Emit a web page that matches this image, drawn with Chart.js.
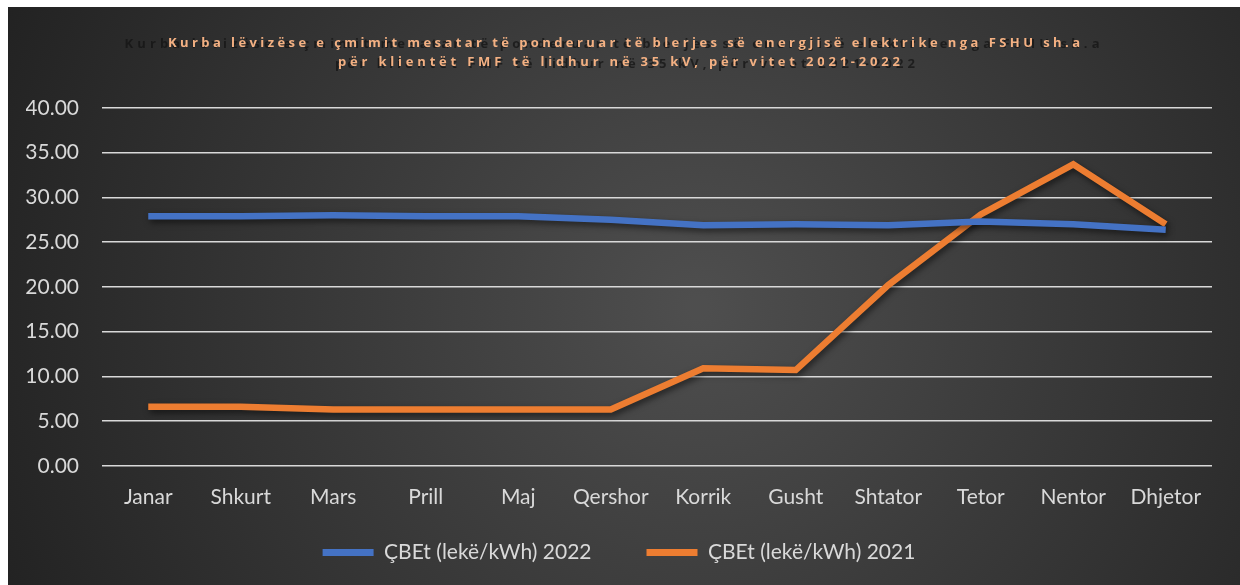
<!DOCTYPE html>
<html>
<head>
<meta charset="utf-8">
<title>ÇBEt 2021-2022</title>
<script src="https://cdn.jsdelivr.net/npm/chart.js@4/dist/chart.umd.min.js"></script>
<style>
  html, body { margin: 0; padding: 0; background: #ffffff; }
  #wrap { position: absolute; left: 8px; top: 7px; width: 1232px; height: 578px; }
  canvas { display: block; }
</style>
</head>
<body>
<div id="wrap"><canvas id="c" width="1232" height="578"></canvas></div>
<script>
// Months
const months = ['Janar', 'Shkurt', 'Mars', 'Prill', 'Maj', 'Qershor', 'Korrik', 'Gusht', 'Shtator', 'Tetor', 'Nentor', 'Dhjetor'];
// Average weighted purchase price, lekë/kWh
const price2022 = [27.9, 27.9, 28.0, 27.9, 27.9, 27.5, 26.9, 27.0, 26.9, 27.3, 27.0, 26.4];
const price2021 = [6.6, 6.6, 6.3, 6.3, 6.3, 6.3, 10.9, 10.7, 20.2, 28.1, 33.7, 27.0];
const seriesNames = ['ÇBEt (lekë/kWh) 2022', 'ÇBEt (lekë/kWh) 2021'];
const titleLines = [
  'Kurba lëvizëse e çmimit mesatar të ponderuar të blerjes së energjisë elektrike nga FSHU sh.a',
  'për klientët FMF të lidhur në 35 kV, për vitet 2021-2022'
];
const yTicks = { min: 0, max: 40, step: 5 };

const BLUE = '#4472C4';
const ORANGE = '#ED7D31';
const TEXT = '#d9d9d9';
const FONT = { family: 'Lato', size: 21 };

// dark radial panel behind everything
const panelBg = {
  id: 'panelBg',
  beforeDraw(chart) {
    const { ctx, width, height } = chart;
    const g = ctx.createRadialGradient(690, 300, 10, 690, 300, 760);
    g.addColorStop(0, '#4e4e4e');
    g.addColorStop(0.45, '#3a3a3a');
    g.addColorStop(1, '#222222');
    ctx.save();
    ctx.fillStyle = g;
    ctx.fillRect(0, 0, width, height);
    ctx.restore();
  }
};

// draws text with extra tracking, centred on cx, stretched to a given width
function spacedText(ctx, text, cx, y, targetWidth) {
  const chars = Array.from(text);
  const widths = chars.map(ch => ctx.measureText(ch).width);
  const natural = widths.reduce((a, b) => a + b, 0);
  const gap = (targetWidth - natural) / (chars.length - 1);
  let x = cx - targetWidth / 2;
  chars.forEach((ch, i) => {
    ctx.fillText(ch, x, y);
    x += widths[i] + gap;
  });
}

// two-line title with a dark echo behind it
const spacedTitle = {
  id: 'spacedTitle',
  afterDraw(chart) {
    const ctx = chart.ctx;
    ctx.save();
    ctx.font = 'bold 13px "Open Sans"';
    ctx.textBaseline = 'middle';
    ctx.textAlign = 'left';
    // echo
    ctx.fillStyle = 'rgba(20,20,20,0.75)';
    ctx.filter = 'blur(0.6px)';
    spacedText(ctx, titleLines[0], 604, 37, 975);
    spacedText(ctx, titleLines[1], 617, 57, 580);
    ctx.filter = 'none';
    // main text
    ctx.fillStyle = '#F4B183';
    spacedText(ctx, titleLines[0], 616, 36, 912);
    spacedText(ctx, titleLines[1], 611, 55, 562);
    ctx.restore();
  }
};

// soft drop shadow under the lines
const lineShadow = {
  id: 'lineShadow',
  beforeDatasetsDraw(chart) {
    const ctx = chart.ctx;
    ctx.save();
    ctx.shadowColor = 'rgba(0,0,0,0.55)';
    ctx.shadowBlur = 6;
    ctx.shadowOffsetX = 2;
    ctx.shadowOffsetY = 3;
  },
  afterDatasetsDraw(chart) {
    chart.ctx.restore();
  }
};

new Chart(document.getElementById('c'), {
  type: 'line',
  data: {
    labels: months,
    datasets: [
      {
        label: seriesNames[0],
        data: price2022,
        borderColor: BLUE,
        backgroundColor: BLUE,
        borderWidth: 6.5,
        borderCapStyle: 'butt',
        borderJoinStyle: 'miter',
        pointRadius: 0,
        tension: 0
      },
      {
        label: seriesNames[1],
        data: price2021,
        borderColor: ORANGE,
        backgroundColor: ORANGE,
        borderWidth: 6.5,
        borderCapStyle: 'butt',
        borderJoinStyle: 'miter',
        pointRadius: 0,
        tension: 0
      }
    ]
  },
  options: {
    responsive: false,
    animation: false,
    layout: { padding: { top: 101, left: 18, right: 28, bottom: 12 } },
    plugins: {
      title: { display: false },
      tooltip: { enabled: false },
      legend: {
        position: 'bottom',
        labels: {
          color: TEXT,
          font: FONT,
          boxWidth: 51,
          boxHeight: 7,
          padding: 13,
          generateLabels(chart) {
            const items = Chart.defaults.plugins.legend.labels.generateLabels(chart);
            items.forEach((it, i) => {
              it.lineWidth = 0;
              if (i < items.length - 1) it.text = it.text + '\u2003\u2003\u2002';
            });
            return items;
          }
        }
      }
    },
    scales: {
      x: {
        offset: true,
        grid: { display: false, drawTicks: false },
        border: { display: false },
        ticks: {
          color: TEXT,
          font: FONT,
          maxRotation: 0,
          autoSkip: false,
          padding: 19
        }
      },
      y: {
        min: yTicks.min,
        max: yTicks.max,
        border: { display: false },
        grid: { color: '#d9d9d9', lineWidth: 1.6, drawTicks: false },
        afterFit(scale) { scale.width = 76; },
        ticks: {
          stepSize: yTicks.step,
          color: TEXT,
          font: FONT,
          padding: 23,
          callback: v => Number(v).toFixed(2)
        }
      }
    }
  },
  plugins: [panelBg, lineShadow, spacedTitle]
});
</script>
</body>
</html>
